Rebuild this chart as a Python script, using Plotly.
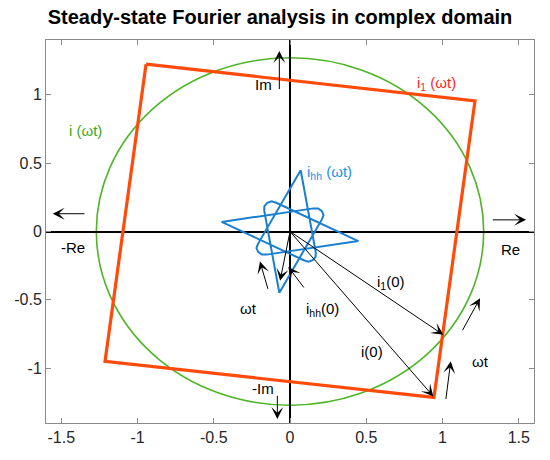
import plotly.graph_objects as go

# ---------------- data ----------------
# fundamental circle i(wt)
circle_radius = 1.27

# square trajectory i1(wt) (corners, closed)
square_re = [-0.944, 1.213, 0.944, -1.213, -0.944]
square_im = [1.223, 0.955, -1.213, -0.950, 1.223]

# harmonic trajectory ihh(wt) (star)
star_re = [0.070, 0.169, 0.168, 0.149, 0.121, 0.090,
           -0.448, 0.153, 0.185, 0.209, 0.220, 0.210,
           -0.070, -0.169, -0.168, -0.149, -0.121, -0.090,
           0.448, -0.153, -0.185, -0.209, -0.220, -0.210,
           0.070]
star_im = [0.448, -0.153, -0.185, -0.209, -0.220, -0.210,
           0.070, 0.169, 0.168, 0.149, 0.121, 0.090,
           -0.448, 0.153, 0.185, 0.209, 0.220, 0.210,
           -0.070, -0.169, -0.168, -0.149, -0.121, -0.090,
           0.448]

# vectors (tail -> head)
vec_tail_re = [0.0, 0.0, 0.0]
vec_tail_im = [0.0, 0.0, 0.0]
vec_head_re = [1.005, 0.940, -0.065]
vec_head_im = [-0.755, -1.206, -0.360]

# rotation-direction arrows (tail -> head)
rot_tail_re = [-0.142, 0.098, 1.021, 1.126]
rot_tail_im = [-0.430, -0.420, -1.235, -0.733]
rot_head_re = [-0.197, -0.011, 1.054, 1.246]
rot_head_im = [-0.220, -0.260, -0.949, -0.488]

# axis-direction arrows (tail -> head)
ax_tail_re = [-0.070, -0.083, -1.338, 1.320]
ax_tail_im = [1.030, -1.190, 0.130, 0.085]
ax_head_re = [-0.070, -0.083, -1.556, 1.548]
ax_head_im = [1.320, -1.370, 0.130, 0.085]

# text labels
label_text = ["Im", "-Im", "-Re", "Re",
              "i<sub>1</sub> (ωt)", "i (ωt)", "i<sub>hh</sub> (ωt)",
              "i<sub>1</sub>(0)", "i<sub>hh</sub>(0)", "i(0)", "ωt", "ωt"]
label_re = [-0.175, -0.177, -1.420, 1.443, 0.962, -1.338, 0.262,
            0.660, 0.216, 0.538, -0.275, 1.246]
label_im = [1.077, -1.145, -0.120, -0.130, 1.082, 0.740, 0.434,
            -0.370, -0.570, -0.880, -0.560, -0.954]
label_color = ["black", "black", "black", "black", "#ff1f1f", "#3aa816", "#1a8fe6",
               "black", "black", "black", "black", "black"]

x_ticks = [-1.5, -1, -0.5, 0, 0.5, 1, 1.5]
y_ticks = [-1, -0.5, 0, 0.5, 1]

# ---------------- figure ----------------
# the page body adds an 8 px offset, so the figure is 8 px smaller and shifted
W, H = 542, 452

fig = go.Figure()

fig.add_shape(type="circle", xref="x", yref="y",
              x0=-circle_radius, y0=-circle_radius, x1=circle_radius, y1=circle_radius,
              line=dict(color="#4fb526", width=1.6), layer="below")

fig.add_trace(go.Scatter(x=square_re, y=square_im, mode="lines",
                         line=dict(color="#ff4a0a", width=3.2), hoverinfo="skip"))
fig.add_trace(go.Scatter(x=star_re, y=star_im, mode="lines",
                         line=dict(color="#1a7fd0", width=2), hoverinfo="skip"))

annotations = []
for tails_re, tails_im, heads_re, heads_im in [
        (vec_tail_re, vec_tail_im, vec_head_re, vec_head_im),
        (rot_tail_re, rot_tail_im, rot_head_re, rot_head_im),
        (ax_tail_re, ax_tail_im, ax_head_re, ax_head_im)]:
    for tx, ty, hx, hy in zip(tails_re, tails_im, heads_re, heads_im):
        annotations.append(dict(x=hx, y=hy, ax=tx, ay=ty, xref="x", yref="y",
                                axref="x", ayref="y", text="", showarrow=True,
                                arrowhead=3, arrowsize=2.0, arrowwidth=1.0,
                                arrowcolor="black"))
for t, x, y, c in zip(label_text, label_re, label_im, label_color):
    annotations.append(dict(x=x, y=y, xref="x", yref="y", text=t, showarrow=False,
                            font=dict(size=15, color=c, family="Liberation Sans, Arial")))

fig.update_layout(
    width=W, height=H,
    margin=dict(l=38, r=16, t=32, b=37, autoexpand=False),
    paper_bgcolor="white", plot_bgcolor="white",
    showlegend=False,
    font=dict(family="Liberation Sans, Arial", size=16, color="#262626"),
    title=dict(text="<b>Steady-state Fourier analysis in complex domain</b>",
               x=272/W, xref="container", xanchor="center",
               y=1.0 - 2/H, yref="container", yanchor="top", pad=dict(t=0, b=0),
               font=dict(size=20, color="black", family="Liberation Sans, Arial")),
    annotations=annotations,
)
fig.update_xaxes(range=[-1.6, 1.6], tickvals=x_ticks, ticktext=[f"{v:g}" for v in x_ticks],
                 showgrid=False, zeroline=True, zerolinecolor="black", zerolinewidth=2,
                 showline=True, mirror="ticks", linecolor="#8a8a8a", linewidth=1,
                 ticks="inside", ticklen=5, tickcolor="#8a8a8a", automargin=False,
                 tickfont=dict(size=16, color="#262626"))
fig.update_yaxes(range=[-1.4, 1.4], tickvals=y_ticks, ticktext=[f"{v:g}" for v in y_ticks],
                 showgrid=False, zeroline=True, zerolinecolor="black", zerolinewidth=2,
                 showline=True, mirror="ticks", linecolor="#8a8a8a", linewidth=1,
                 ticks="inside", ticklen=5, tickcolor="#8a8a8a", automargin=False,
                 tickfont=dict(size=16, color="#262626"))

fig.write_html("out.html")
